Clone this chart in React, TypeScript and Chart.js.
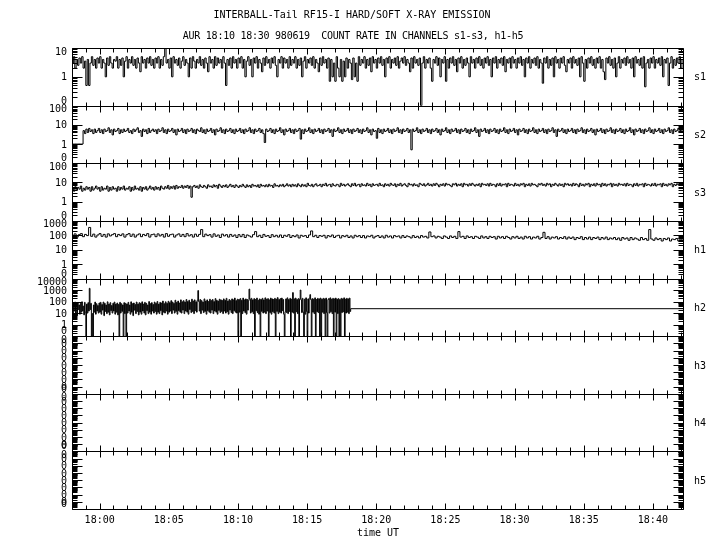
import React, { useEffect, useRef } from 'react';
import { Chart, registerables } from 'chart.js';

Chart.register(...registerables);

const FONT = '"DejaVu Sans Mono", monospace';

const TITLE_1 = 'INTERBALL-Tail RF15-I HARD/SOFT X-RAY EMISSION';
const TITLE_2 = 'AUR 18:10 18:30 980619  COUNT RATE IN CHANNELS s1-s3, h1-h5';
const X_TITLE = 'time UT';

// time in minutes after 18:00 UT
const TIME_MIN = -2;
const TIME_MAX = 42.25;
const TIME_TICKS = [0, 5, 10, 15, 20, 25, 30, 35, 40];

const PANEL_NAMES = ['s1', 's2', 's3', 'h1', 'h2', 'h3', 'h4', 'h5'];
const PANEL_MIN = [0.1, 0.1, 0.1, 0.1, 0.1, 1e-9, 1e-9, 1e-9];
const PANEL_MAX = [10, 100, 100, 1000, 10000, 0.1, 0.1, 0.1];
const EMPTY_TICKS = [1e-9, 1e-8, 1e-7, 1e-6, 1e-5, 1e-4, 1e-3, 1e-2, 1e-1];
const PANEL_TICKS = [
  [0.1, 1, 10],
  [0.1, 1, 10, 100],
  [0.1, 1, 10, 100],
  [0.1, 1, 10, 100, 1000],
  [0.1, 1, 10, 100, 1000, 10000],
  EMPTY_TICKS,
  EMPTY_TICKS,
  EMPTY_TICKS,
];

// sampling of s1, s2, s3 (minutes)
const S_T0 = -2;
const S_STEP = 0.1;
// sampling of h1
const H1_T0 = -2;
const H1_STEP = 0.15;
// sampling of h2
const H2_T0 = -2;
const H2_STEP = 0.05;
const H2_FILL_LEVEL = 24;
const H2_FILL_FROM = 18.15;

const s1 = [
  3, 5, 2, 4, 2.5, 4.5, 3, 5, 2, 3.5, 0.5, 4, 0.5, 3, 5, 2.5, 4, 2, 4.5, 3,
  5, 2, 4, 3, 1, 4.5, 2.5, 5, 3, 2, 4, 3.5, 5, 2, 4, 2.5, 4.5, 1, 3.5, 5,
  2, 4, 3, 5, 2.5, 4, 2, 4.5, 3, 1.5, 5, 3, 4, 2, 4.5, 3, 5, 2.5, 4, 2,
  4.5, 3, 5, 2, 4, 2.5, 5, 10, 3, 4, 2, 4.5, 1, 5, 3, 4, 2.5, 4.5, 2, 3.5,
  5, 2.5, 4, 3, 1, 4.5, 2, 5, 3.5, 2, 4, 3, 5, 2.5, 4, 2, 4.5, 3, 1.5, 5,
  3, 4, 2, 5, 2.5, 4.5, 3, 4, 2, 5, 3, 0.5, 4, 2.5, 4.5, 2, 5, 3, 4, 2,
  4.5, 3, 5, 2, 4, 1, 3.5, 5, 2.5, 4, 1, 4.5, 3, 5, 2, 4, 3, 1.5, 4.5, 2.5,
  5, 3, 4, 2, 4.5, 3, 5, 2.5, 1, 4, 3, 5, 2, 4.5, 3, 4, 2, 5, 2.5, 4,
  3, 5, 2, 4, 2.5, 4.5, 1, 3.5, 5, 2, 4, 3, 4.5, 2.5, 5, 2, 4, 3, 1.5, 4.5,
  2.5, 5, 3, 4, 2, 4.5, 0.7, 4, 1, 3, 0.7, 5, 2, 1, 4, 0.7, 3.5, 1, 4.5, 2,
  4, 3, 0.8, 4.5, 1, 3, 0.7, 5, 2.5, 4, 3, 5, 2, 4, 2.5, 4.5, 1.5, 5, 3, 4,
  2, 4.5, 3, 5, 2.5, 4, 1, 4.5, 3, 5, 2, 4, 3, 4.5, 2.5, 5, 2, 3.5, 4.5, 3,
  5, 2.5, 4, 3, 1.5, 4.5, 2, 5, 3, 4, 2.5, 4.5, 0.1, 3, 5, 2, 4, 3, 4.5, 2,
  0.7, 4, 3, 5, 2.5, 4.5, 1, 4, 3, 5, 0.7, 4, 2, 4.5, 3, 5, 2.5, 4, 1.5, 4.5,
  3, 5, 2, 4, 2.5, 4.5, 3, 1, 5, 3, 4, 2, 4.5, 3, 5, 2.5, 4, 2, 4.5, 3,
  5, 2.5, 4, 1, 4.5, 3, 5, 2, 4, 3, 4.5, 2.5, 5, 1.5, 4, 3, 4.5, 2, 5, 3,
  4, 2, 4.5, 3, 5, 2.5, 4, 1, 4.5, 3, 5, 2, 4, 3, 4.5, 2.5, 5, 2, 4, 3,
  0.6, 4.5, 3, 5, 2, 4, 2.5, 4.5, 1, 5, 3, 4, 2, 4.5, 3, 5, 2.5, 1.5, 4, 3,
  4.5, 2, 5, 3, 4, 2.5, 4.5, 1, 5, 3, 0.7, 4, 2, 4.5, 3, 5, 2.5, 4, 2, 4.5,
  3, 5, 2, 4, 1.5, 0.8, 4.5, 3, 5, 2.5, 4, 2, 4.5, 1, 3, 5, 2, 4, 3, 4.5,
  2.5, 5, 3, 4, 2, 4.5, 1, 5, 3, 4, 2.5, 4.5, 2, 5, 0.45, 3, 4, 2, 4.5, 3,
  5, 2, 4, 3, 4.5, 2.5, 5, 1, 4, 3, 4.5, 0.5, 3, 5, 2, 4, 2.5, 4.5, 3, 5,
  2, 4, 3,
];

const s2 = [
  1, 1, 1, 1, 1, 1, 1, 1, 5, 3.5, 6, 4, 6.5, 4.5, 5.5, 3.5, 6, 4, 5, 6.5,
  4, 5.5, 3.5, 6, 4.5, 5, 7, 4, 5.5, 3, 6, 4.5, 5, 6.5, 3.5, 5.5, 4, 6, 4.5, 5,
  6.5, 4, 5, 3.5, 6, 4.5, 5.5, 7, 4, 5, 2.5, 6, 4.5, 5.5, 3.5, 6.5, 4, 5, 6, 4.5,
  5.5, 3.5, 6, 4.5, 5, 7, 4, 5.5, 3.5, 6, 4.5, 5, 6.5, 4, 5.5, 3, 6, 4.5, 5, 6.5,
  4, 5.5, 3.5, 6, 4.5, 5, 6.5, 4, 5.5, 3.5, 6, 5, 4.5, 7, 4, 5.5, 3.5, 6, 4.5, 5,
  6.5, 4, 5.5, 3, 6, 4.5, 5, 7, 4, 5.5, 3.5, 6, 4.5, 5, 6.5, 4, 5.5, 3.5, 6, 4.5,
  5, 6.5, 4, 5.5, 3.5, 6, 4.5, 5, 7, 4, 5.5, 3.5, 6, 4.5, 5, 6.5, 4, 5.5, 3.5, 1.2,
  6, 4.5, 5, 6.5, 4, 5.5, 3.5, 6, 4.5, 5, 7, 4, 5.5, 3, 6, 4.5, 5, 6.5, 4, 5.5,
  3.5, 6, 4.5, 5, 6.5, 1.8, 5.5, 3.5, 6, 4.5, 5, 7, 4, 5.5, 3.5, 6, 4.5, 5, 6.5, 4,
  5.5, 3.5, 6, 4.5, 5, 6.5, 4, 5.5, 2.5, 6, 4.5, 5, 7, 4, 5.5, 3.5, 6, 4.5, 5, 6.5,
  4, 5.5, 3.5, 6, 4.5, 5, 6.5, 4, 5.5, 3.5, 6, 4.5, 5, 7, 4, 5.5, 3, 6, 4.5, 5,
  2, 6.5, 4, 5.5, 3.5, 6, 4.5, 5, 6.5, 4, 5.5, 3.5, 6, 4.5, 5, 7, 4, 5.5, 3.5, 6,
  4.5, 5, 6.5, 4, 5.5, 0.5, 6, 4.5, 5, 7, 4, 5.5, 3.5, 6, 4.5, 5, 6.5, 4, 5.5, 3.5,
  6, 4.5, 5, 6.5, 4, 5.5, 3, 6, 4.5, 5, 7, 4, 5.5, 3.5, 6, 4.5, 5, 6.5, 4, 5.5,
  3.5, 6, 4.5, 5, 6.5, 4, 5.5, 3.5, 6, 4.5, 5, 7, 4, 5.5, 2.5, 6, 4.5, 5, 6.5, 4,
  5.5, 3.5, 6, 4.5, 5, 6.5, 4, 5.5, 3.5, 6, 4.5, 5, 7, 4, 5.5, 3.5, 6, 4.5, 5, 6.5,
  4, 5.5, 3, 6, 4.5, 5, 6.5, 4, 5.5, 3.5, 6, 4.5, 5, 7, 4, 5.5, 3.5, 6, 4.5, 5,
  6.5, 4, 5.5, 3.5, 6, 4.5, 5, 7, 4, 5.5, 2.5, 6, 4.5, 5, 6.5, 4, 5.5, 3.5, 6, 4.5,
  5, 6.5, 4, 5.5, 3.5, 6, 4.5, 5, 7, 4, 5.5, 3.5, 6, 4.5, 5, 6.5, 4, 5.5, 3, 6,
  4.5, 5, 6.5, 4, 5.5, 3.5, 6, 4.5, 5, 7, 4, 5.5, 3.5, 6, 4.5, 5, 6.5, 4, 5.5, 3.5,
  6, 4.5, 5, 7, 4, 5.5, 3, 6, 4.5, 5, 6.5, 4, 5.5, 3.5, 6, 4.5, 5, 7, 4, 5.5,
  3.5, 6, 4.5, 5, 6.5, 4, 5.5, 3.5, 6, 4.5, 5, 7, 4, 5.5, 3.5, 6, 4.5, 5, 6.5, 4,
  5.5, 4.5, 6,
];

const s3 = [
  5, 3.5, 6, 4, 5.5, 4.5, 6.5, 3.5, 5, 4, 6, 4.5, 5.5, 3.5, 6, 4, 5, 6.5, 4.5, 5.5,
  3.5, 6, 4, 5, 4.5, 6.5, 3.5, 5.5, 4, 6, 4.5, 5, 3.5, 6, 4, 5.5, 4.5, 6.5, 4, 5,
  4.5, 6, 3.5, 5.5, 4, 6.5, 4.5, 5, 4, 6, 3.5, 5.5, 4.5, 6, 4, 5, 6.5, 4.5, 5.5, 4,
  6, 4.5, 5.5, 4, 6.5, 5, 4.5, 6, 5, 7, 4.5, 6, 5, 6.5, 4.5, 7, 5, 6, 5.5, 7,
  5, 6.5, 5.5, 7, 5, 6.5, 1.7, 6, 7, 5.5, 6.5, 5, 7.5, 6, 5.5, 7, 6, 5, 7.5, 6,
  6.5, 5.5, 7.5, 6, 7, 5, 8, 6.5, 5.5, 7, 6, 7.5, 5.5, 6.5, 8, 6, 7, 5.5, 7.5, 6.5,
  5.5, 7, 6, 8, 6.5, 5.5, 7.5, 6, 7, 5.5, 8, 6.5, 7, 6, 7.5, 5.5, 8, 6.5, 7, 6,
  7.5, 6, 8, 6.5, 7, 5.5, 8.5, 6.5, 7, 6, 7.5, 6.5, 8, 6, 7, 8.5, 6.5, 7.5, 6, 8,
  6.5, 7.5, 6, 8.5, 7, 6, 8, 6.5, 7.5, 6, 9, 7, 6.5, 8, 6, 7.5, 8.5, 6.5, 7, 8,
  6, 8, 7, 9, 6.5, 7.5, 8, 6, 8.5, 7, 6.5, 8, 7.5, 6, 9, 7, 8, 6.5, 7.5, 8.5,
  7, 6, 8.5, 7, 9, 6.5, 7.5, 8, 6, 8.5, 7, 7.5, 6.5, 9, 7, 8, 6, 8.5, 7, 7.5,
  8, 6.5, 9, 7, 7.5, 6, 8.5, 7, 8, 6.5, 9, 7.5, 7, 8.5, 6, 8, 7, 9, 6.5, 7.5,
  8.5, 7, 6, 9, 7.5, 8, 6.5, 8.5, 7, 7.5, 6, 9, 8, 7, 8.5, 6.5, 7.5, 9, 7, 8,
  6.5, 8.5, 7, 9, 7.5, 6, 8, 7, 8.5, 6.5, 9, 7.5, 8, 7, 6, 8.5, 7.5, 9, 6.5, 8,
  7, 8.5, 6, 9, 7.5, 8, 6.5, 8.5, 7, 9, 7.5, 6.5, 8, 7, 8.5, 6, 9, 7.5, 8, 7,
  8.5, 6.5, 9, 7, 8, 7.5, 6, 8.5, 7, 9, 6.5, 8, 7.5, 8.5, 6, 9, 7, 8, 7.5, 6.5,
  9, 7, 8, 6.5, 8.5, 7.5, 9, 6, 8, 7, 8.5, 6.5, 9, 7.5, 8, 7, 6, 8.5, 7.5, 9,
  7, 8, 6.5, 9, 7.5, 8.5, 6, 8, 7, 9, 7.5, 6.5, 8.5, 7, 8, 6, 9, 7.5, 8.5, 7,
  8, 6.5, 9, 7, 8.5, 7.5, 6, 9, 7, 8, 6.5, 8.5, 7.5, 9, 6, 8, 7, 8.5, 6.5, 9,
  7.5, 8, 6, 9, 7, 8.5, 6.5, 8, 7.5, 9, 6, 8.5, 7, 8, 6.5, 9, 7.5, 8, 7, 8.5,
  6.5, 9, 7, 8, 7.5, 6, 8.5, 7, 9, 6.5, 8, 7.5, 8.5, 6, 9, 7, 8, 7.5, 6.5, 8.5,
  7, 9, 6.5, 8, 7.5, 8.5, 6, 9, 7, 8, 6.5, 8.5, 7.5, 9, 6, 8, 7, 8.5, 7.5, 9,
  7, 8, 7.5,
];

const h1 = [
  90, 125, 75, 110, 130, 80, 115, 95, 350, 85, 120, 75, 105, 130, 85, 115, 75, 125, 90, 110,
  130, 80, 115, 95, 125, 75, 110, 130, 85, 120, 75, 105, 125, 80, 115, 95, 130, 75, 110, 120,
  80, 125, 90, 115, 75, 130, 85, 110, 120, 75, 105, 125, 85, 115, 80, 130, 90, 110, 75, 120,
  85, 115, 250, 80, 120, 95, 110, 75, 125, 85, 105, 70, 120, 90, 110, 75, 115, 85, 105, 70,
  110, 80, 115, 70, 105, 90, 75, 110, 180, 80, 100, 70, 115, 85, 95, 70, 110, 80, 100, 75,
  105, 70, 100, 85, 110, 70, 95, 80, 105, 65, 100, 85, 95, 70, 105, 200, 80, 100, 70, 95,
  85, 100, 65, 95, 80, 105, 70, 90, 100, 65, 95, 80, 100, 70, 90, 65, 100, 80, 95, 70,
  95, 65, 90, 80, 100, 65, 85, 95, 70, 90, 65, 100, 75, 90, 65, 95, 80, 90, 65, 95,
  70, 90, 80, 65, 95, 70, 85, 65, 95, 75, 85, 65, 170, 80, 90, 65, 85, 75, 60, 90,
  75, 60, 90, 70, 85, 60, 180, 75, 85, 60, 90, 70, 80, 60, 85, 75, 60, 90, 65, 80,
  60, 85, 70, 80, 55, 85, 65, 80, 60, 85, 70, 55, 80, 65, 85, 60, 75, 55, 85, 65,
  80, 55, 75, 65, 85, 55, 70, 160, 60, 80, 55, 75, 65, 80, 55, 70, 60, 80, 55, 75,
  60, 75, 50, 70, 60, 80, 50, 70, 55, 75, 50, 70, 60, 75, 50, 70, 55, 75, 50, 65,
  55, 70, 50, 65, 45, 70, 55, 65, 45, 70, 50, 65, 55, 45, 70, 50, 60, 45, 250, 55,
  45, 65, 50, 60, 40, 60, 50, 65, 40, 55, 50, 60, 40, 55, 45, 50,
];

const h2 = [
  30, 8, 60, 15, 90, 10, 45, 6, 80, 20, 50, 8, 70, 12, 95, 15, 40, 7, 85, 12,
  0.1, 60, 10, 80, 15, 1400, 20, 70, 0.1, 9, 0.1, 50, 12, 90, 8, 65, 15, 45, 10, 75,
  12, 85, 8, 55, 18, 90, 6, 70, 14, 50, 9, 95, 12, 60, 7, 80, 16, 45, 10, 70,
  15, 90, 8, 60, 12, 75, 7, 55, 0.1, 85, 10, 65, 14, 50, 0.1, 80, 9, 70, 0.1, 60,
  10, 85, 15, 50, 8, 95, 12, 65, 6, 75, 18, 55, 9, 90, 14, 60, 7, 80, 12, 70,
  8, 95, 15, 60, 10, 85, 7, 70, 16, 50, 9, 100, 12, 65, 8, 80, 15, 55, 10, 90,
  14, 70, 8, 100, 12, 60, 9, 85, 16, 75, 7, 110, 12, 65, 10, 95, 15, 70, 8, 105,
  12, 80, 15, 120, 9, 90, 18, 70, 10, 130, 14, 85, 8, 110, 16, 75, 12, 140, 10, 95,
  18, 120, 9, 90, 15, 150, 12, 100, 8, 130, 20, 85, 11, 160, 14, 110, 9, 140, 16, 95,
  12, 130, 900, 100, 15, 150, 9, 120, 18, 90, 11, 170, 14, 110, 8, 140, 16, 100, 12, 160,
  10, 120, 18, 150, 9, 100, 15, 180, 12, 130, 8, 110, 17, 160, 11, 140, 14, 120, 9, 170,
  15, 130, 10, 190, 13, 110, 8, 150, 18, 120, 11, 170, 9, 140, 16, 200, 12, 120, 10, 160,
  0.1, 150, 12, 180, 0.1, 130, 9, 200, 15, 140, 11, 170, 8, 150, 18, 120, 1200, 160, 10, 190,
  13, 140, 9, 180, 0.1, 150, 16, 200, 11, 130, 8, 170, 0.1, 150, 14, 190, 10, 140, 12, 210,
  9, 160, 15, 180, 0.1, 140, 11, 200, 8, 170, 13, 150, 10, 190, 0.1, 160, 14, 220, 9, 150,
  12, 180, 10, 200, 16, 150, 8, 0.1, 13, 170, 11, 210, 9, 150, 14, 190, 0.1, 160, 12, 600,
  10, 170, 0.1, 200, 13, 150, 9, 180, 0.1, 160, 1000, 140, 11, 190, 12, 0.1, 160, 8, 210, 14,
  0.1, 170, 10, 200, 400, 150, 0.1, 180, 12, 160, 9, 210, 0.1, 150, 13, 190, 11, 170, 0.1, 200,
  0.1, 160, 12, 190, 9, 170, 0.1, 200, 11, 0.1, 150, 180, 10, 210, 13, 160, 9, 190, 0.1, 170,
  12, 200, 0.1, 160, 9, 180, 0.1, 150, 0.1, 190, 11, 170, 13, 210, 0.1, 160, 10, 190, 12, 170,
  9, 200, 14,
];

const fmtTime = (v: number) => `18:${String(Math.round(v)).padStart(2, '0')}`;
const fmtCount = (v: number) => (v >= 1 ? String(Math.round(v)) : '0');

const panelPlugin = {
  id: 'panelFrames',
  afterDraw(chart: any) {
    const ctx = chart.ctx as CanvasRenderingContext2D;
    const xs = chart.scales.x;
    const area = chart.chartArea;
    const L = Math.round(area.left) + 0.5;
    const R = Math.round(area.right) - 0.5;
    ctx.save();
    ctx.strokeStyle = '#000';
    ctx.fillStyle = '#000';
    ctx.lineWidth = 1;
    ctx.font = `10px ${FONT}`;
    PANEL_NAMES.forEach((name, k) => {
      const sc = chart.scales[name];
      const T = Math.round(sc.top) + 0.5;
      const B = Math.round(sc.bottom) + 0.5;
      ctx.beginPath();
      ctx.rect(L, T, R - L, B - T);
      const lo = Math.floor(Math.log10(sc.min) + 1e-9);
      const hi = Math.ceil(Math.log10(sc.max) - 1e-9);
      for (let e = lo; e <= hi; e++) {
        for (let m = 1; m <= 9; m++) {
          const v = m * Math.pow(10, e);
          if (v < sc.min * 0.999 || v > sc.max * 1.001) continue;
          const y = Math.round(sc.getPixelForValue(v)) + 0.5;
          const len = m === 1 ? 10 : 5;
          ctx.moveTo(L, y);
          ctx.lineTo(L + len, y);
          ctx.moveTo(R, y);
          ctx.lineTo(R - len, y);
        }
      }
      for (let t = Math.ceil(xs.min); t <= xs.max; t++) {
        const x = Math.round(xs.getPixelForValue(t)) + 0.5;
        const len = t % 5 === 0 ? 6 : 4;
        ctx.moveTo(x, T);
        ctx.lineTo(x, T + len);
        ctx.moveTo(x, B);
        ctx.lineTo(x, B - len);
      }
      ctx.stroke();

      // y tick labels, kept inside their own panel
      ctx.textAlign = 'right';
      ctx.textBaseline = 'middle';
      PANEL_TICKS[k].forEach((v) => {
        let y = sc.getPixelForValue(v) + 1;
        y = Math.max(sc.top + 4, Math.min(sc.bottom - 4.5, y));
        ctx.fillText(fmtCount(v), 67, y);
      });

      ctx.textAlign = 'left';
      ctx.fillText(name, 694, (sc.top + sc.bottom) / 2 + 1);
    });
    ctx.textAlign = 'center';
    ctx.textBaseline = 'middle';
    ctx.fillText(TITLE_1, 352, 15);
    (ctx as any).letterSpacing = '-0.25px';
    ctx.fillText(TITLE_2, 353, 36);
    ctx.restore();
  },
};

export default function App() {
  const ref = useRef<HTMLCanvasElement | null>(null);

  useEffect(() => {
    if (!ref.current) return;

    const series = (arr: number[], t0: number, step: number) =>
      arr.map((v, i) => ({ x: t0 + i * step, y: v }));
    const h2Data = series(h2, H2_T0, H2_STEP);
    h2Data.push({ x: H2_FILL_FROM, y: H2_FILL_LEVEL });
    h2Data.push({ x: TIME_MAX, y: H2_FILL_LEVEL });

    const line = (data: any[], axis: string) => ({
      data,
      yAxisID: axis,
      borderColor: '#000',
      borderWidth: 1,
      pointRadius: 0,
      stepped: true,
      tension: 0,
      fill: false,
    });

    const scales: any = {
      x: {
        type: 'linear',
        position: 'bottom',
        min: TIME_MIN,
        max: TIME_MAX,
        grid: { display: false, drawTicks: false },
        border: { display: false },
        afterBuildTicks: (s: any) => {
          s.ticks = TIME_TICKS.map((v) => ({ value: v }));
        },
        afterFit: (s: any) => {
          s.height = 41;
        },
        ticks: {
          autoSkip: false,
          maxRotation: 0,
          padding: 5,
          color: '#000',
          font: { family: FONT, size: 10 },
          callback: (v: any) => fmtTime(Number(v)),
        },
        title: {
          display: true,
          text: X_TITLE,
          color: '#000',
          font: { family: FONT, size: 10 },
          padding: { top: 0, bottom: 11 },
        },
      },
    };
    PANEL_NAMES.forEach((name, k) => {
      scales[name] = {
        type: 'logarithmic',
        position: 'left',
        stack: 'panels',
        stackWeight: 1,
        weight: PANEL_NAMES.length - k,
        min: PANEL_MIN[k],
        max: PANEL_MAX[k],
        offset: false,
        grid: { display: false, drawTicks: false },
        border: { display: false },
        afterBuildTicks: (s: any) => {
          s.ticks = PANEL_TICKS[k].map((v) => ({ value: v }));
        },
        afterFit: (s: any) => {
          s.width = 72;
        },
        ticks: {
          display: false,
          autoSkip: false,
          callback: (v: any) => fmtCount(Number(v)),
        },
      };
    });

    const chart = new Chart(ref.current, {
      type: 'line',
      data: {
        datasets: [
          line(series(s1, S_T0, S_STEP), 's1'),
          line(series(s2, S_T0, S_STEP), 's2'),
          line(series(s3, S_T0, S_STEP), 's3'),
          line(series(h1, H1_T0, H1_STEP), 'h1'),
          line(h2Data, 'h2'),
        ],
      },
      options: {
        responsive: false,
        animation: false,
        events: [],
        layout: { autoPadding: false, padding: { top: 48, right: 36, left: 0, bottom: 0 } },
        plugins: { legend: { display: false }, tooltip: { enabled: false }, title: { display: false } },
        scales,
      } as any,
      plugins: [panelPlugin],
    });
    return () => chart.destroy();
  }, []);

  return (
    <div style={{ position: 'absolute', left: 0, top: 0, width: 720, height: 550, background: '#fff' }}>
      <canvas ref={ref} width={720} height={550} />
    </div>
  );
}
